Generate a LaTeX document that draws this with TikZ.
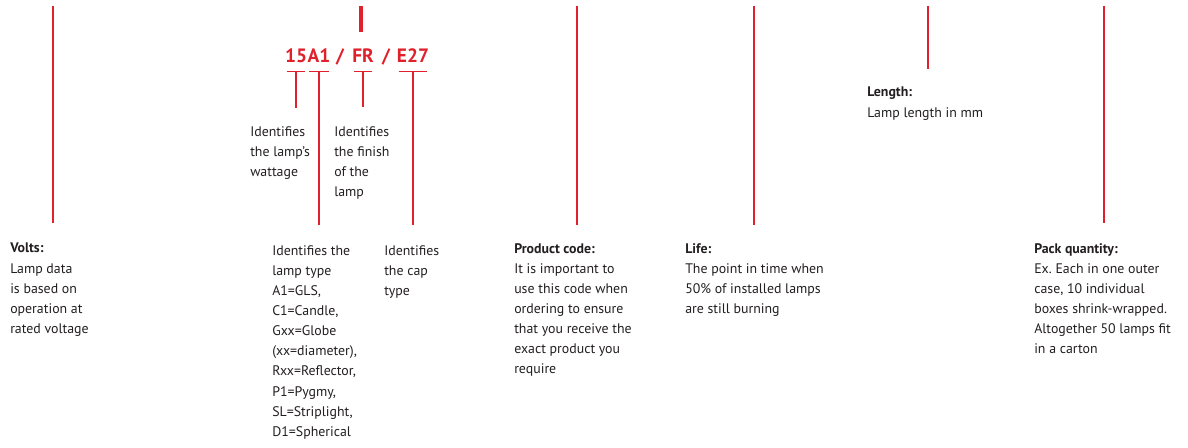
\documentclass[tikz,border=0pt]{standalone}
\usepackage{fontspec}
\setmainfont{PT Sans}
\usetikzlibrary{positioning}
\definecolor{gered}{HTML}{E0202B}
\definecolor{getext}{HTML}{231F20}
\tikzset{ln/.append style={draw=gered, line width=1.1pt}}
\tikzset{tk/.append style={ln, shorten <=1.5pt, shorten >=1.5pt}}
\tikzset{txt/.append style={anchor=north west, align=left, inner sep=0pt, text=getext, font=\fontsize{10.4}{15.1}\selectfont}}
\tikzset{cd/.append style={anchor=base, inner sep=0pt, text=gered, font=\fontsize{14.5}{16}\selectfont\bfseries}}

\begin{document}
\begin{tikzpicture}[x=0.75pt,y=-0.75pt]
                \useasboundingbox (0,0) rectangle (1188,447);
                % code
                \node[cd] (nA1) at (319,62) {A1};
                \node[cd,anchor=base east] (n15) at (nA1.base west) {15};
                \node[cd] (s1) at (340,62) {/};
                \node[cd] (nFR) at (363,62) {FR};
                \node[cd] (s2) at (386,62) {/};
                \node[cd] (nE27) at (413,62) {E27};
                \coordinate (bartop) at (361,6);
                \coordinate (barbot) at (361,32);
                \draw[gered, line width=3pt] (bartop) -- (barbot);
                % ticks under the code
                \draw[tk] ([yshift=-6.75pt]n15.south west) -- ([yshift=-6.75pt]n15.south east);
                \draw[tk] ([yshift=-6.75pt]nA1.south west) -- ([yshift=-6.75pt]nA1.south east);
                \draw[tk] ([yshift=-6.75pt]nFR.south west) -- ([yshift=-6.75pt]nFR.south east);
                \draw[tk] ([yshift=-6.75pt]nE27.south west) -- ([yshift=-6.75pt]nE27.south east);
                \draw[ln] ([yshift=-6.75pt]n15.south) -- ++(0,36);
                \draw[ln] ([yshift=-6.75pt]nA1.south) -- ++(0,154);
                \draw[ln] ([yshift=-6.75pt]nFR.south) -- ++(0,36);
                \draw[ln] ([yshift=-6.75pt]nE27.south) -- ++(0,154);
                % texts
                \node[txt] (watt) at (250,126) {Identifies\\the lamp’s\\wattage};
                \node[txt] (finish) at (334,126) {Identifies\\the finish\\of the\\lamp};
                \node[txt] (ltype) at (272,245) {Identifies the\\lamp type\\A1=GLS,\\C1=Candle,\\Gxx=Globe\\(xx=diameter),\\Rxx=Reflector,\\P1=Pygmy,\\SL=Striplight,\\D1=Spherical};
                \node[txt] (cap) at (384,245) {Identifies\\the cap\\type};
                \node[txt] (volts) at (10,243) {\textbf{Volts:}\\Lamp data\\is based on\\operation at\\rated voltage};
                \node[txt] (prod) at (514,243) {\textbf{Product code:}\\It is important to\\use this code when\\ordering to ensure\\that you receive the\\exact product you\\require};
                \node[txt] (life) at (685,243) {\textbf{Life:}\\The point in time when\\50\% of installed lamps\\are still burning};
                \node[txt] (len) at (867,87) {\textbf{Length:}\\Lamp length in mm};
                \node[txt] (pack) at (1034,243) {\textbf{Pack quantity:}\\Ex.\ Each in one outer\\case, 10 individual\\boxes shrink-wrapped.\\Altogether 50 lamps fit\\in a carton};
                % leader lines
                \coordinate (vtop) at (53,6);   \coordinate (vbot) at (53,223);
                \coordinate (ptop) at (577,6);  \coordinate (pbot) at (577,225);
                \coordinate (ltop) at (754,6);  \coordinate (lbot) at (754,225);
                \coordinate (gtop) at (928,6);  \coordinate (gbot) at (928,69);
                \coordinate (qtop) at (1104,6); \coordinate (qbot) at (1104,223);
                \draw[ln] (vtop) -- (vbot);
                \draw[ln] (ptop) -- (pbot);
                \draw[ln] (ltop) -- (lbot);
                \draw[ln] (gtop) -- (gbot);
                \draw[ln] (qtop) -- (qbot);
            \end{tikzpicture}
\end{document}
